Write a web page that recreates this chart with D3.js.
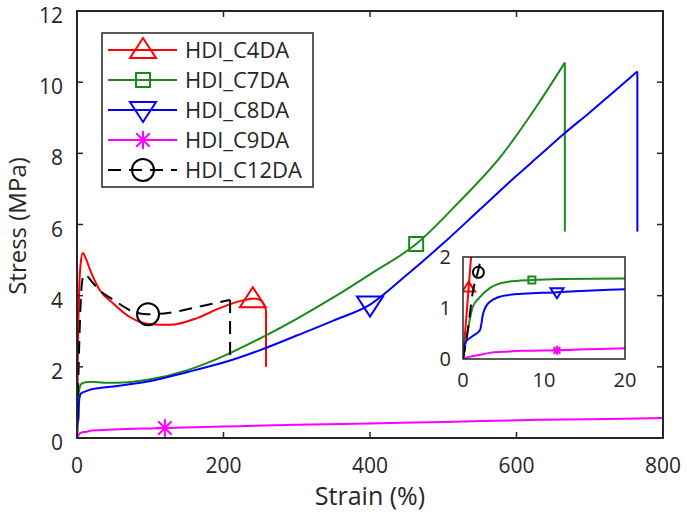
<!DOCTYPE html>
<html>
<head>
<meta charset="utf-8">
<script src="https://cdn.jsdelivr.net/npm/d3@7"></script>
<style>
body{margin:0;background:#fff}
text{font-family:"Open Sans",sans-serif;fill:#262626}
</style>
</head>
<body>
<svg id="chart" width="687" height="518"></svg>
<script>
// series data, [strain %, stress MPa]
var seriesNames = ['HDI_C4DA','HDI_C7DA','HDI_C8DA','HDI_C9DA','HDI_C12DA']
var seriesColors = ['#ff0000','#1a8a1a','#0000ff','#ff00ff','#000000']
var seriesMarkers = ['up','square','down','star','circle']

var c4da = [[0,0],[0.7,1.4],[1.1,2.2],[2,3.4],[3,4.2],[5,4.9],[8,5.2],[12,5.05],[18,4.72],[31,4.16],[49,3.79],[72,3.4],[100,3.2],[127,3.18],[164,3.37],[195,3.65],[225,3.86],[242,3.92],[252,3.85],[258,3.6]]
var c7da = [[0,0],[0.6,0.57],[1.2,1.02],[2,1.2],[3.3,1.39],[5.4,1.51],[8.5,1.55],[12,1.57],[20,1.58],[40,1.55],[70,1.57],[100,1.65],[150,1.9],[200,2.3],[250,2.8],[300,3.35],[350,3.95],[400,4.6],[463,5.45],[520,6.6],[580,7.95],[630,9.4],[666,10.55]]
var c8da = [[0,0],[0.25,0.31],[1.2,0.45],[2.1,0.57],[2.5,0.9],[3.3,1.12],[5.4,1.25],[11.6,1.31],[20,1.37],[50,1.45],[100,1.6],[150,1.85],[200,2.12],[250,2.47],[300,2.88],[350,3.3],[400,3.75],[450,4.58],[500,5.47],[550,6.42],[600,7.37],[632,7.95],[666,8.57],[700,9.15],[765,10.3]]
var c9da = [[0,0],[0.5,0.03],[1,0.05],[2,0.08],[3.3,0.12],[5,0.14],[7.4,0.16],[11.6,0.17],[20,0.21],[50,0.24],[100,0.27],[120,0.28],[200,0.32],[300,0.37],[400,0.41],[500,0.45],[632,0.51],[700,0.53],[800,0.56]]
var c12da = [[0,0],[0.5,0.45],[1.2,1.3],[1.9,1.75],[3,2.6],[5,3.8],[7,4.4],[10,4.6],[14,4.55],[20,4.4],[31,4.15],[50,3.88],[77,3.55],[97,3.48],[127,3.52],[164,3.68],[209,3.88]]

// stress where each curve ends after break (null = no break)
var breakStress = [2.0, 5.8, 5.8, null, 2.28]

// marker positions, main plot and inset
var mainMarkers = [[240,3.9],[463,5.45],[400,3.75],[120,0.28],[97,3.48]]
var insetMarkers = [[0.7,1.4],[8.5,1.55],[11.6,1.31],[11.6,0.17],[1.9,1.7]]

var xTicks = [0,200,400,600,800]
var yTicks = [0,2,4,6,8,10,12]
var insetXTicks = [0,10,20]
var insetYTicks = [0,1,2]

var allSeries = [c4da, c7da, c8da, c9da, c12da]

var svg = d3.select('#chart')
var axisColor = '#262626'

// main scales
var x = d3.scaleLinear().domain([0,800]).range([77,663])
var y = d3.scaleLinear().domain([0,12]).range([438,11])

// inset scales
var ix = d3.scaleLinear().domain([0,20]).range([463,625])
var iy = d3.scaleLinear().domain([0,2]).range([359,257])

var defs = svg.append('defs')
defs.append('clipPath').attr('id','mainClip')
  .append('rect').attr('x',77).attr('y',11).attr('width',586).attr('height',427)
defs.append('clipPath').attr('id','insetClip')
  .append('rect').attr('x',463).attr('y',257).attr('width',162).attr('height',102)

function markerPath(type, s){
  // s = scale factor (1 for main / legend)
  var w, h
  if(type == 'up'){ w = 13*s; h = 20*s; return 'M'+(-w)+','+(h*0.4)+'L'+w+','+(h*0.4)+'L0,'+(-h*0.6)+'Z' }
  if(type == 'down'){ w = 13*s; h = 20*s; return 'M'+(-w)+','+(-h*0.4)+'L'+w+','+(-h*0.4)+'L0,'+(h*0.6)+'Z' }
  if(type == 'square'){ w = 7*s; return 'M'+(-w)+','+(-w)+'H'+w+'V'+w+'H'+(-w)+'Z' }
  if(type == 'circle'){ w = 11*s; return d3.symbol(d3.symbolCircle, Math.PI*w*w)() }
  if(type == 'star'){
    w = 9*s; var d = w*0.75
    return 'M0,'+(-w)+'V'+w+'M'+(-w)+',0H'+w+'M'+(-d)+','+(-d)+'L'+d+','+d+'M'+(-d)+','+d+'L'+d+','+(-d)
  }
}

function drawCurves(g, sx, sy, markers, ms, clipId){
  var line = d3.line()
    .x(function(d){return sx(d[0])})
    .y(function(d){return sy(d[1])})
    .curve(d3.curveMonotoneX)
  var straight = d3.line()
    .x(function(d){return sx(d[0])})
    .y(function(d){return sy(d[1])})
  var layer = g.append('g').attr('clip-path','url(#'+clipId+')')
  allSeries.forEach(function(data,i){
    var sg = layer.append('g')
    var dash = i == 4 ? '13,8' : null
    sg.append('path')
      .attr('d', line(data))
      .attr('fill','none')
      .attr('stroke', seriesColors[i])
      .attr('stroke-width', 2)
      .attr('stroke-dasharray', dash)
    if(breakStress[i] != null){
      var last = data[data.length-1]
      sg.append('path')
        .attr('d', straight([last,[last[0], breakStress[i]]]))
        .attr('fill','none')
        .attr('stroke', seriesColors[i])
        .attr('stroke-width', 2)
        .attr('stroke-dasharray', dash)
    }
    sg.append('path')
      .attr('transform','translate('+sx(markers[i][0])+','+sy(markers[i][1])+')')
      .attr('d', markerPath(seriesMarkers[i], ms))
      .attr('fill','none')
      .attr('stroke', seriesColors[i])
      .attr('stroke-width', 2)
  })
}

// main plot
var main = svg.append('g')
drawCurves(main, x, y, mainMarkers, 1, 'mainClip')

// box and ticks (inside, on all four sides)
main.append('rect')
  .attr('x',77).attr('y',11).attr('width',586).attr('height',427)
  .attr('fill','none').attr('stroke',axisColor).attr('stroke-width',2)

xTicks.forEach(function(t){
  main.append('line').attr('x1',x(t)).attr('x2',x(t)).attr('y1',438).attr('y2',432)
    .attr('stroke',axisColor).attr('stroke-width',1.5)
  main.append('line').attr('x1',x(t)).attr('x2',x(t)).attr('y1',11).attr('y2',17)
    .attr('stroke',axisColor).attr('stroke-width',1.5)
  main.append('text').attr('x',x(t)).attr('y',473)
    .attr('text-anchor','middle').style('font-size','21px').text(t)
})
yTicks.forEach(function(t){
  main.append('line').attr('x1',77).attr('x2',83).attr('y1',y(t)).attr('y2',y(t))
    .attr('stroke',axisColor).attr('stroke-width',1.5)
  main.append('line').attr('x1',663).attr('x2',657).attr('y1',y(t)).attr('y2',y(t))
    .attr('stroke',axisColor).attr('stroke-width',1.5)
  main.append('text').attr('x',63).attr('y',y(t)+12)
    .attr('text-anchor','end').style('font-size','21px').text(t)
})

main.append('text').attr('x',370).attr('y',505)
  .attr('text-anchor','middle').style('font-size','25px').text('Strain (%)')
main.append('text').attr('transform','translate(26,226) rotate(-90)')
  .attr('text-anchor','middle').style('font-size','24px').text('Stress (MPa)')

// legend
var legend = svg.append('g')
legend.append('rect')
  .attr('x',102).attr('y',33).attr('width',211).attr('height',154)
  .attr('fill','#fff').attr('stroke',axisColor).attr('stroke-width',1.5)
seriesNames.forEach(function(name,i){
  var ly = 50 + i*30
  legend.append('line').attr('x1',108).attr('x2',177).attr('y1',ly).attr('y2',ly)
    .attr('stroke',seriesColors[i]).attr('stroke-width',2)
    .attr('stroke-dasharray', i == 4 ? '13,8' : null)
  legend.append('path')
    .attr('transform','translate(143,'+ly+')')
    .attr('d', markerPath(seriesMarkers[i], 1))
    .attr('fill','none').attr('stroke',seriesColors[i]).attr('stroke-width',2)
  legend.append('text').attr('x',185).attr('y',ly+8)
    .style('font-size','22px').text(name)
})

// inset
var inset = svg.append('g')
inset.append('rect')
  .attr('x',463).attr('y',257).attr('width',162).attr('height',102)
  .attr('fill','#fff')
drawCurves(inset, ix, iy, insetMarkers, 0.5, 'insetClip')
inset.append('rect')
  .attr('x',463).attr('y',257).attr('width',162).attr('height',102)
  .attr('fill','none').attr('stroke',axisColor).attr('stroke-width',1.5)
insetXTicks.forEach(function(t){
  inset.append('text').attr('x',ix(t)).attr('y',387)
    .attr('text-anchor','middle').style('font-size','20px').text(t)
})
insetYTicks.forEach(function(t){
  inset.append('text').attr('x',451).attr('y',iy(t)+7)
    .attr('text-anchor','end').style('font-size','20px').text(t)
})
</script>
</body>
</html>
